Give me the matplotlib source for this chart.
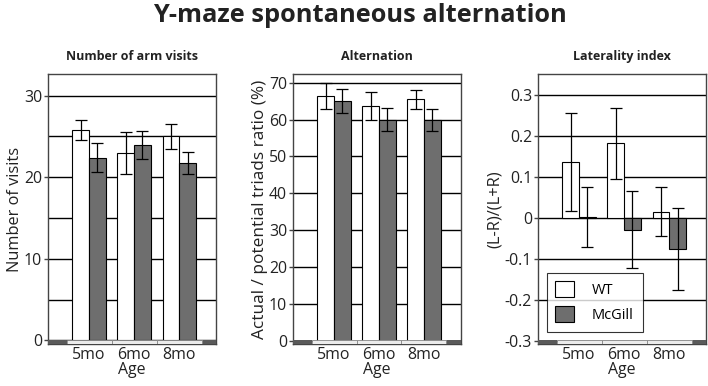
import matplotlib
matplotlib.use("Agg")
import matplotlib.pyplot as plt
from matplotlib.patches import Rectangle, Patch
import matplotlib.transforms as mtransforms
import numpy as np

plt.rcParams['font.family'] = ['Open Sans', 'DejaVu Sans']

ages = ["5mo", "6mo", "8mo"]
groups = ["WT", "McGill"]

visits_wt = [25.8, 23.0, 25.0]
visits_wt_err = [1.2, 2.55, 1.5]
visits_mc = [22.4, 23.95, 21.7]
visits_mc_err = [1.8, 1.7, 1.35]

alt_wt = [66.4, 63.8, 65.5]
alt_wt_err = [3.6, 3.8, 2.6]
alt_mc = [65.1, 60.0, 59.9]
alt_mc_err = [3.3, 3.1, 3.1]

lat_wt = [0.137, 0.182, 0.015]
lat_wt_err = [0.12, 0.087, 0.06]
lat_mc = [0.002, -0.029, -0.076]
lat_mc_err = [0.073, 0.094, 0.10]

W, H = 708, 386
fig = plt.figure(figsize=(W / 100, H / 100), dpi=100)

fig.text(360 / W, 1 - 16 / H, "Y-maze spontaneous alternation", ha="center", va="center",
         fontsize=18.3, fontweight="bold", color="#222222")

panels = [
    dict(left=48.3, right=216.0, title="Number of arm visits", ylabel="Number of visits", ylsize=11.8,
         wt=visits_wt, wte=visits_wt_err, mc=visits_mc, mce=visits_mc_err,
         ylim=(-0.43, 32.6), grid=np.arange(0, 31, 5), ticks=[0, 10, 20, 30]),
    dict(left=293.3, right=460.7, title="Alternation", ylabel="Actual / potential triads ratio (%)", ylsize=12.4,
         wt=alt_wt, wte=alt_wt_err, mc=alt_mc, mce=alt_mc_err,
         ylim=(-0.95, 72.3), grid=np.arange(0, 71, 10), ticks=list(range(0, 71, 10))),
    dict(left=538.3, right=706.0, title="Laterality index", ylabel="(L-R)/(L+R)", ylsize=11.8,
         wt=lat_wt, wte=lat_wt_err, mc=lat_mc, mce=lat_mc_err,
         ylim=(-0.3085, 0.3505), grid=np.round(np.arange(-0.3, 0.31, 0.1), 1),
         ticks=list(np.round(np.arange(-0.3, 0.31, 0.1), 1))),
]

top_px, bot_px = 74.3, 344.0
x = np.arange(len(ages))
bw = 0.37
wt_color = "white"
mc_color = "#6e6e6e"
txt = "#222222"

for i, p in enumerate(panels):
    ax = fig.add_axes([p["left"] / W, 1 - bot_px / H, (p["right"] - p["left"]) / W, (bot_px - top_px) / H])
    ax.set_xlim(-0.907, 2.818)
    ax.set_ylim(*p["ylim"])
    for g in p["grid"]:
        ax.axhline(g, color="black", lw=1.0, zorder=1)
    ax.bar(x - bw / 2, p["wt"], bw, color=wt_color, edgecolor="black", lw=0.8, zorder=2)
    ax.bar(x + bw / 2, p["mc"], bw, color=mc_color, edgecolor="black", lw=0.8, zorder=2)
    ax.errorbar(x - bw / 2, p["wt"], yerr=p["wte"], fmt="none", ecolor="black", elinewidth=0.9,
                capsize=4.5, capthick=0.9, zorder=3)
    ax.errorbar(x + bw / 2, p["mc"], yerr=p["mce"], fmt="none", ecolor="black", elinewidth=0.9,
                capsize=4.5, capthick=0.9, zorder=3)
    # floor band
    trans = mtransforms.blended_transform_factory(ax.transData, ax.transAxes)
    bh = 0.013
    xl, xr = ax.get_xlim()
    ax.add_patch(Rectangle((xl, 0), -0.5 - xl, bh, transform=trans, facecolor="#5a5a5a",
                           edgecolor="none", zorder=4, clip_on=False))
    ax.add_patch(Rectangle((len(ages) - 0.5, 0), xr - (len(ages) - 0.5), bh, transform=trans,
                           facecolor="#5a5a5a", edgecolor="none", zorder=4, clip_on=False))
    for k in range(len(ages)):
        ax.add_patch(Rectangle((k - 0.5, 0), 1, bh, transform=trans, facecolor="#ebebeb",
                               edgecolor="#888888", lw=0.6, zorder=4))
    ax.set_yticks(p["ticks"])
    ax.set_yticklabels(["{:g}".format(t) if abs(t) > 1e-9 else "0" for t in p["ticks"]])
    ax.set_xticks(x)
    ax.set_xticklabels(ages)
    ax.tick_params(axis="both", labelsize=11.4, labelcolor=txt)
    ax.tick_params(axis="y", length=3, width=1.0, color="#444444", pad=1.5)
    ax.tick_params(axis="x", length=0, pad=2)
    ax.set_xlabel("Age", fontsize=11.4, color=txt, labelpad=-0.5)
    ax.set_ylabel(p["ylabel"], fontsize=p["ylsize"], color=txt, labelpad=1)
    ax.set_title(p["title"], fontsize=9, fontweight="bold", color=txt, pad=10)
    for s in ax.spines.values():
        s.set_color("#444444")
        s.set_linewidth(1.0)
    if i == 2:
        handles = [Patch(facecolor=wt_color, edgecolor="black", lw=0.8, label=groups[0]),
                   Patch(facecolor=mc_color, edgecolor="black", lw=0.8, label=groups[1])]
        leg = ax.legend(handles=handles, loc="lower left", bbox_to_anchor=(0.05, 0.045),
                        frameon=True, fancybox=False, fontsize=10.5, handlelength=1.3,
                        handleheight=1.3, handletextpad=1.2, borderpad=0.6, labelspacing=0.55,
                        borderaxespad=0)
        leg.get_frame().set_edgecolor("black")
        leg.get_frame().set_linewidth(0.8)
        leg.set_zorder(5)

fig.savefig("out.png", dpi=100)
